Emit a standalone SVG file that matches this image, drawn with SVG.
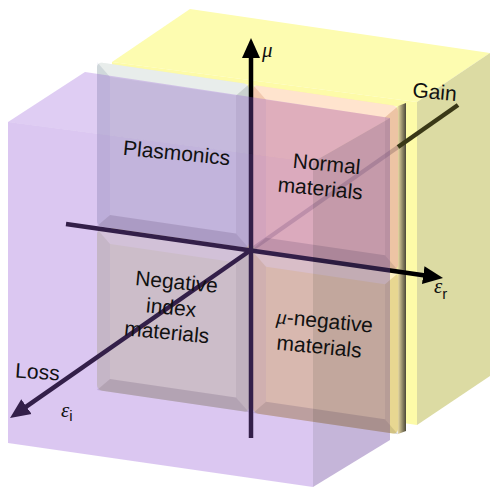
<svg xmlns="http://www.w3.org/2000/svg" width="490" height="487" viewBox="0 0 490 487">
<defs>
<style>
.t{font-family:"Liberation Sans",Arial,sans-serif;font-size:21px;fill:#111;text-anchor:middle}
.s{font-family:"Liberation Serif","Times New Roman",serif;font-style:italic;fill:#111}
.sub{font-family:"Liberation Sans",Arial,sans-serif;font-style:normal}
.ax{stroke:#000;stroke-width:4.5;fill:none;stroke-linecap:butt}
.bt{fill:#fff;opacity:.38}
.bl{fill:#5a50b0;opacity:.07}
.br{fill:#000;opacity:.07}
.bb{fill:#000;opacity:.16}
</style>
<marker id="ah" markerUnits="userSpaceOnUse" markerWidth="22" markerHeight="20" viewBox="0 -10 22 20" refX="2" refY="0" orient="auto">
<path d="M0,-9 L20,0 L0,9 z" fill="#000"/>
</marker>
<linearGradient id="side" x1="0" y1="0" x2="1" y2="0">
<stop offset="0" stop-color="#e6d8a2"/>
<stop offset="1" stop-color="#4c4838"/>
</linearGradient>
</defs>

<g id="yellow-box">
<polygon points="112,62 190,9 490,53 417,102" fill="#fdfcb0"/>
<polygon points="112,62 417,102 417,425 112,381" fill="#fdfba8"/>
<polygon points="417,102 490,53 490,376 417,425" fill="#dcdba3"/>
</g>

<g id="panel">
<g transform="matrix(1 0.147 0 1 0 -14.259)">
<g id="tile-plasmonics">
<rect x="97" y="62" width="152" height="164" rx="5" fill="#dae2df"/>
<polygon class="bt" points="97,62 249,62 236,75 110,75"/>
<polygon class="bl" points="97,62 110,75 110,213 97,226"/>
<polygon class="br" points="249,62 249,226 236,213 236,75"/>
<polygon class="bb" points="97,226 249,226 236,213 110,213"/>
</g>
<g id="tile-normal">
<rect x="253" y="62" width="145" height="164" rx="5" fill="#ffd3b1"/>
<polygon class="bt" points="253,62 398,62 385,75 266,75"/>
<polygon class="bl" points="253,62 266,75 266,213 253,226"/>
<polygon class="br" points="398,62 398,226 385,213 385,75"/>
<polygon class="bb" points="253,226 398,226 385,213 266,213"/>
</g>
<g id="tile-negative-index">
<rect x="97" y="229" width="152" height="161" rx="5" fill="#e9f0c2"/>
<polygon class="bt" points="97,229 249,229 236,242 110,242"/>
<polygon class="bl" points="97,229 110,242 110,377 97,390"/>
<polygon class="br" points="249,229 249,390 236,377 236,242"/>
<polygon class="bb" points="97,390 249,390 236,377 110,377"/>
</g>
<g id="tile-mu-negative">
<rect x="253" y="229" width="145" height="161" rx="5" fill="#fae89c"/>
<polygon class="bt" points="253,229 398,229 385,242 266,242"/>
<polygon class="bl" points="253,229 266,242 266,377 253,390"/>
<polygon class="br" points="398,229 398,390 385,377 385,242"/>
<polygon class="bb" points="253,390 398,390 385,377 266,377"/>
</g>
</g>
<polygon points="398,106 406,103 406,431 398,434" fill="url(#side)"/>
</g>

<g id="connectors">
<line x1="251" y1="250" x2="398" y2="147" stroke="#3a2030" stroke-width="4" opacity=".22"/>
<line x1="398" y1="147" x2="458" y2="105" stroke="#3a3816" stroke-width="4.5"/>
<line class="ax" x1="251" y1="438" x2="251" y2="56" marker-end="url(#ah)"/>
<line class="ax" x1="66" y1="224" x2="425.2" y2="275.4" marker-end="url(#ah)"/>
<line class="ax" x1="251" y1="250" x2="24.8" y2="407.7" marker-end="url(#ah)"/>
</g>

<g id="purple-box">
<polygon points="8,122 85,72 390,118 313,162" fill="rgb(150,90,215)" opacity=".30"/>
<polygon points="8,122 313,162 313,487 8,443" fill="rgb(150,90,215)" opacity=".34"/>
<polygon points="313,162 390,118 390,440 313,487" fill="rgb(110,70,160)" opacity=".40"/>
</g>

<g id="labels">
<text class="t" x="176" y="160" transform="rotate(5.5 176 160)">Plasmonics</text>
<text class="t" transform="rotate(5.5 326 171)"><tspan x="326" y="171">Normal</tspan><tspan x="322" y="196">materials</tspan></text>
<text class="t" transform="rotate(5.5 176 289)"><tspan x="176" y="289">Negative</tspan><tspan x="173" y="315">index</tspan><tspan x="171" y="340">materials</tspan></text>
<text class="t" transform="rotate(5.5 324 328)"><tspan x="324" y="328"><tspan class="s">μ</tspan>-negative</tspan><tspan x="321" y="354">materials</tspan></text>
<text class="t" x="434" y="99" transform="rotate(5 434 99)">Gain</text>
<text class="t" x="37" y="379" transform="rotate(4 37 379)">Loss</text>
<text class="s" x="262" y="57" font-size="21">μ</text>
<text class="s" x="434" y="293" font-size="21">ε<tspan class="sub" font-size="15" dy="6">r</tspan></text>
<text class="s" x="61" y="417" font-size="21">ε<tspan class="sub" font-size="15" dy="4">i</tspan></text>
</g>
</svg>
